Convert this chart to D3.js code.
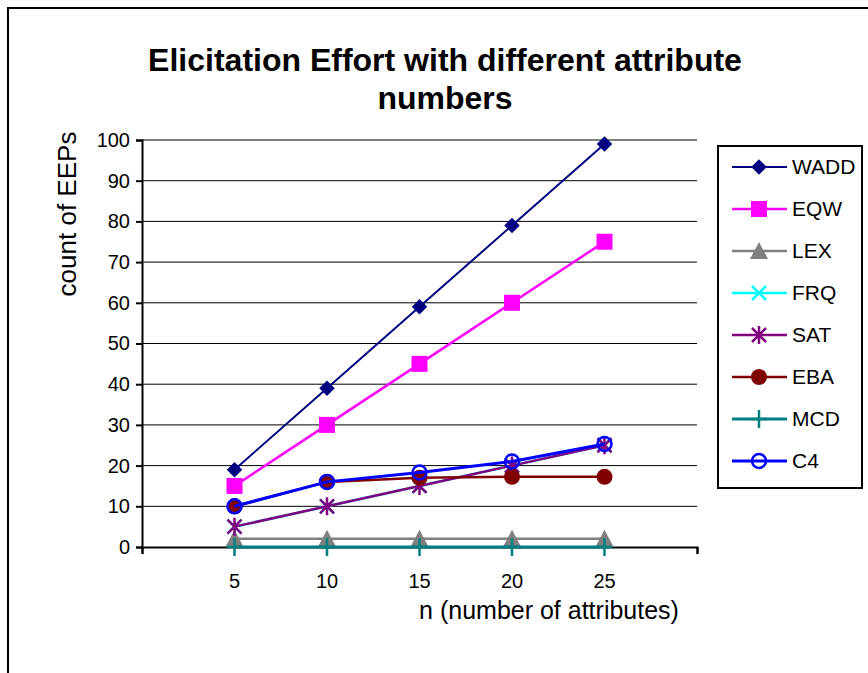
<!DOCTYPE html>
<html>
<head>
<meta charset="utf-8">
<script src="https://cdn.jsdelivr.net/npm/d3@7"></script>
<style>
body { margin: 0; background: #fff; }
text { font-family: "Liberation Sans", Arial, sans-serif; }
</style>
</head>
<body>
<svg width="868" height="673"></svg>
<script>
// data
var categories = [5, 10, 15, 20, 25];
var seriesNames = ["WADD", "EQW", "LEX", "FRQ", "SAT", "EBA", "MCD", "C4"];
var wadd = [19, 39, 59, 79, 99];
var eqw = [15, 30, 45, 60, 75];
var lex = [2, 2, 2, 2, 2];
var frq = [5, 10, 15, 20, 25];
var sat = [5, 10, 15, 20, 25];
var eba = [10, 16, 17, 17.25, 17.25];
var mcd = [0, 0, 0, 0, 0];
var c4 = [10, 16, 18.3, 21, 25.3];
var yTicks = [0, 10, 20, 30, 40, 50, 60, 70, 80, 90, 100];

var seriesValues = [wadd, eqw, lex, frq, sat, eba, mcd, c4];
var colors = ["#000080", "#ff00ff", "#808080", "#00ffff", "#800080", "#800000", "#008080", "#0000ff"];
var shapes = ["diamond", "square", "triangle", "x", "star", "circle", "plus", "ring"];
var widths = [2, 2.5, 2.5, 2.5, 2.5, 2.5, 3, 3];

var svg = d3.select("svg");

// outer frame
svg.append("path")
	.attr("d", "M8,673 V8 H868")
	.attr("fill", "none")
	.attr("stroke", "#000")
	.attr("stroke-width", 2);

var x = d3.scaleLinear().domain([0, 30]).range([142, 697]);
var y = d3.scaleLinear().domain([0, 100]).range([547, 140]);

// gridlines
svg.append("g")
	.selectAll("line")
	.data(yTicks.slice(1))
	.enter().append("line")
	.attr("x1", x(0)).attr("x2", x(30))
	.attr("y1", function (d) { return y(d); })
	.attr("y2", function (d) { return y(d); })
	.attr("stroke", "#000")
	.attr("stroke-width", 1);

// y axis
var yAxis = svg.append("g")
	.attr("transform", "translate(" + x(0) + ",0)")
	.call(d3.axisLeft(y).tickValues(yTicks).tickSize(6).tickPadding(6));
yAxis.select(".domain").attr("stroke-width", 2);
yAxis.selectAll(".tick line").attr("stroke-width", 2);
yAxis.selectAll("text").attr("font-size", 20).attr("fill", "#000");

// x axis
var xAxis = svg.append("g")
	.attr("transform", "translate(0," + y(0) + ")")
	.call(d3.axisBottom(x).tickValues([0, 30]).tickSize(7).tickFormat(""));
xAxis.select(".domain").attr("stroke-width", 2);
xAxis.selectAll(".tick line").attr("stroke-width", 2);

svg.append("g")
	.selectAll("text")
	.data(categories)
	.enter().append("text")
	.attr("x", function (d) { return x(d); })
	.attr("y", 588)
	.attr("text-anchor", "middle")
	.attr("font-size", 20)
	.text(function (d) { return d; });

// titles
var title = svg.append("text")
	.attr("x", 445)
	.attr("text-anchor", "middle")
	.attr("font-size", 32)
	.attr("font-weight", "bold");
title.append("tspan").attr("x", 445).attr("y", 71).text("Elicitation Effort with different attribute");
title.append("tspan").attr("x", 445).attr("y", 109).text("numbers");

svg.append("text")
	.attr("transform", "translate(76,214) rotate(-90)")
	.attr("text-anchor", "middle")
	.attr("font-size", 26)
	.text("count of EEPs");

svg.append("text")
	.attr("x", 549)
	.attr("y", 619)
	.attr("text-anchor", "middle")
	.attr("font-size", 25)
	.text("n (number of attributes)");

// markers
function marker(g, shape, color, cx, cy) {
	if (shape == "diamond") {
		g.append("path").attr("d", d3.symbol(d3.symbolSquare, 120)())
			.attr("transform", "translate(" + cx + "," + cy + ") rotate(45)")
			.attr("fill", color);
	} else if (shape == "square") {
		g.append("rect").attr("x", cx - 8).attr("y", cy - 8).attr("width", 16).attr("height", 16).attr("fill", color);
	} else if (shape == "triangle") {
		g.append("path").attr("d", "M0,-9L9,8L-9,8Z")
			.attr("transform", "translate(" + cx + "," + cy + ")").attr("fill", color);
	} else if (shape == "x") {
		g.append("path").attr("d", "M-7,-7L7,7M-7,7L7,-7")
			.attr("transform", "translate(" + cx + "," + cy + ")")
			.attr("stroke", color).attr("stroke-width", 2.5);
	} else if (shape == "star") {
		g.append("path").attr("d", "M-7,-7L7,7M-7,7L7,-7M0,-9L0,9")
			.attr("transform", "translate(" + cx + "," + cy + ")")
			.attr("stroke", color).attr("stroke-width", 2.5);
	} else if (shape == "circle") {
		g.append("circle").attr("cx", cx).attr("cy", cy).attr("r", 8).attr("fill", color);
	} else if (shape == "plus") {
		g.append("path").attr("d", "M-8,0L8,0M0,-9L0,9")
			.attr("transform", "translate(" + cx + "," + cy + ")")
			.attr("stroke", color).attr("stroke-width", 2.5);
	} else if (shape == "ring") {
		g.append("circle").attr("cx", cx).attr("cy", cy).attr("r", 7)
			.attr("fill", "none").attr("stroke", color).attr("stroke-width", 2.5);
	}
}

var line = d3.line()
	.x(function (d, i) { return x(categories[i]); })
	.y(function (d) { return y(d); });

seriesValues.forEach(function (vals, s) {
	var g = svg.append("g");
	g.append("path")
		.attr("d", line(vals))
		.attr("fill", "none")
		.attr("stroke", colors[s])
		.attr("stroke-width", widths[s]);
	vals.forEach(function (v, i) {
		marker(g, shapes[s], colors[s], x(categories[i]), y(v));
	});
});

// legend
var lg = svg.append("g");
lg.append("rect")
	.attr("x", 718).attr("y", 146).attr("width", 144).attr("height", 342)
	.attr("fill", "#fff").attr("stroke", "#000").attr("stroke-width", 2);
seriesNames.forEach(function (name, s) {
	var ly = 167 + s * 42;
	lg.append("line")
		.attr("x1", 732).attr("x2", 787).attr("y1", ly).attr("y2", ly)
		.attr("stroke", colors[s]).attr("stroke-width", widths[s]);
	marker(lg, shapes[s], colors[s], 759, ly);
	lg.append("text")
		.attr("x", 792).attr("y", ly + 7)
		.attr("font-size", 21)
		.text(name);
});
</script>
</body>
</html>
